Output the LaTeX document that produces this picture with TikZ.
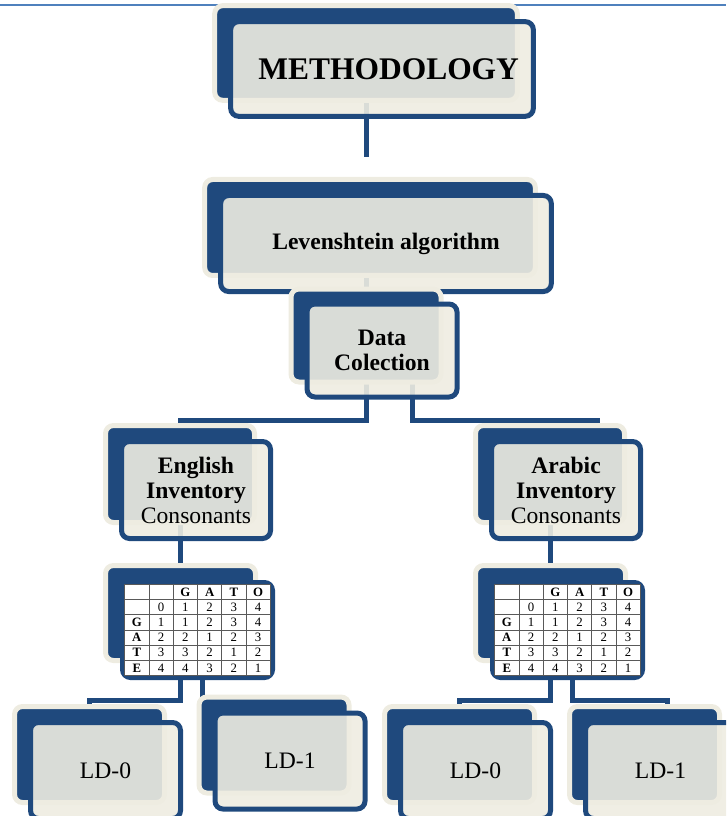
\documentclass[tikz,border=0pt]{standalone}
\usepackage{fontspec}
\setmainfont{Liberation Serif}
\usetikzlibrary{matrix,backgrounds}
\definecolor{navy}{RGB}{31,73,125}
\definecolor{cream}{RGB}{238,236,225}
\definecolor{rulecol}{RGB}{79,129,189}
\begin{document}
\begin{tikzpicture}[x=0.75pt, y=-0.75pt,
    back/.style={draw=cream, fill=navy, line width=3.75pt, rounded corners=6pt},
    front/.style={draw=navy, fill=cream, fill opacity=0.9, text opacity=1,
      line width=3.75pt, rounded corners=6pt, align=center},
    link/.style={draw=navy, line width=3.75pt},
    head/.style={font=\fontsize{23.6}{28}\selectfont\bfseries},
    txt/.style={font=\fontsize{17.7}{18.75}\selectfont},
    gato/.style={matrix of nodes, nodes in empty cells,
      column sep=-0.6pt, row sep=-0.6pt,
      nodes={draw=black!65, line width=0.6pt, fill=white, inner sep=0pt,
        anchor=center, text height=6.6pt, text depth=0.4pt,
        minimum width=18.2pt, minimum height=11.4pt,
        font=\fontsize{9.6}{10}\selectfont}}]
  \useasboundingbox (0,0) rectangle (726,816);
  \clip (0,0) rectangle (726,816);

  % top of the tree
  \node[back, minimum width=227pt, minimum height=71pt] (meth-b) at (366,53) {};
  \node[front, head, minimum width=227pt, minimum height=71pt] (meth)
    at ([shift={(16,16)}]meth-b.center) {\hspace*{10pt}METHODOLOGY};
  \node[back, minimum width=248pt, minimum height=72pt] (lev-b) at (370,227.5) {};
  \node[front, txt, minimum width=248pt, minimum height=72pt] (lev)
    at ([shift={(16,16)}]lev-b.center) {\textbf{Levenshtein algorithm}};
  \node[back, minimum width=112.5pt, minimum height=69.75pt] (data-b) at (366,335.5) {};
  \node[front, txt, minimum width=112.5pt, minimum height=69.75pt] (data)
    at ([shift={(16,15)}]data-b.center) {\textbf{Data}\\\textbf{Colection}};

  % inventories
  \node[back, minimum width=111.75pt, minimum height=72.75pt] (eng-b) at (180,474) {};
  \node[front, txt, minimum width=111.75pt, minimum height=72.75pt] (eng)
    at ([shift={(16,16)}]eng-b.center) {\textbf{English}\\\textbf{Inventory}\\Consonants};
  \node[back, minimum width=111.75pt, minimum height=72.75pt] (ara-b) at (550,474) {};
  \node[front, txt, minimum width=111.75pt, minimum height=72.75pt] (ara)
    at ([shift={(16,16)}]ara-b.center) {\textbf{Arabic}\\\textbf{Inventory}\\Consonants};

  % distance tables
  \node[back, minimum width=112.5pt, minimum height=71.25pt] (engt-b) at (180.5,613) {};
  \node[front, minimum width=112.5pt, minimum height=71.25pt] (engt)
    at ([shift={(17,17)}]engt-b.center) {};
  \matrix[gato] (engt-m) at (engt) {
     & & \textbf{G} & \textbf{A} & \textbf{T} & \textbf{O} \\
     & 0 & 1 & 2 & 3 & 4 \\
    \textbf{G} & 1 & 1 & 2 & 3 & 4 \\
    \textbf{A} & 2 & 2 & 1 & 2 & 3 \\
    \textbf{T} & 3 & 3 & 2 & 1 & 2 \\
    \textbf{E} & 4 & 4 & 3 & 2 & 1 \\
  };
  \node[back, minimum width=112.5pt, minimum height=71.25pt] (arat-b) at (550.5,613) {};
  \node[front, minimum width=112.5pt, minimum height=71.25pt] (arat)
    at ([shift={(17,17)}]arat-b.center) {};
  \matrix[gato] (arat-m) at (arat) {
     & & \textbf{G} & \textbf{A} & \textbf{T} & \textbf{O} \\
     & 0 & 1 & 2 & 3 & 4 \\
    \textbf{G} & 1 & 1 & 2 & 3 & 4 \\
    \textbf{A} & 2 & 2 & 1 & 2 & 3 \\
    \textbf{T} & 3 & 3 & 2 & 1 & 2 \\
    \textbf{E} & 4 & 4 & 3 & 2 & 1 \\
  };

  % distances
  \node[back, minimum width=112.5pt, minimum height=72pt] (ld0a-b) at (89.5,754.5) {};
  \node[front, txt, minimum width=112.5pt, minimum height=72pt] (ld0a)
    at ([shift={(16,16)}]ld0a-b.center) {LD-0};
  \node[back, minimum width=112.5pt, minimum height=72pt] (ld1a-b) at (274,745) {};
  \node[front, txt, minimum width=112.5pt, minimum height=72pt] (ld1a)
    at ([shift={(16,16)}]ld1a-b.center) {LD-1};
  \node[back, minimum width=112.5pt, minimum height=72pt] (ld0b-b) at (459.5,754.5) {};
  \node[front, txt, minimum width=112.5pt, minimum height=72pt] (ld0b)
    at ([shift={(16,16)}]ld0b-b.center) {LD-0};
  \node[back, minimum width=112.5pt, minimum height=72pt] (ld1b-b) at (644.5,754.5) {};
  \node[front, txt, minimum width=112.5pt, minimum height=72pt] (ld1b)
    at ([shift={(16,16)}]ld1b-b.center) {LD-1};

  % connectors behind the boxes
  \begin{pgfonlayer}{background}
    \draw[rulecol, line width=1.2pt] (0,5) -- (726,5);
    \coordinate (m-end) at (366,157);
    \draw[link] (meth-b.center) -- (m-end);
    \draw[link] (lev-b.center -| data-b.center) -- (data-b.center);
    \coordinate (bus-a) at (366,420);
    \coordinate (ara-in) at (597,474);
    \draw[link] (data-b.center) -- (bus-a) -| (eng-b.center);
    \draw[link] ([shift={(46,0)}]data-b.center) |- (ara-in |- bus-a) -- (ara-in);
    \draw[link] (eng-b.center) -- (eng-b.center |- engt-b.center);
    \draw[link] (ara-b.center) -- (ara-b.center |- arat-b.center);
    \coordinate (bus-b) at (181,700);
    \coordinate (ld1b-in) at (667,754);
    \draw[link] (engt-b.center) -- (engt-b.center |- bus-b) -| (ld0a-b.center);
    \draw[link] ([shift={(22,0)}]engt-b.center) |- (ld1a-b.center |- bus-b) -- (ld1a-b.center);
    \draw[link] (arat-b.center) -- (arat-b.center |- bus-b) -| (ld0b-b.center);
    \draw[link] ([shift={(22,0)}]arat-b.center) |- (ld1b-in |- bus-b) -- (ld1b-in);
  \end{pgfonlayer}
\end{tikzpicture}
\end{document}
